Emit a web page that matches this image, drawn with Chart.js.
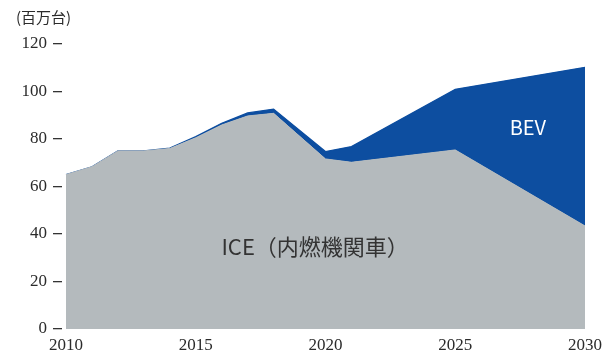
<!DOCTYPE html>
<html>
<head>
<meta charset="utf-8">
<script src="https://cdn.jsdelivr.net/npm/chart.js@4/dist/chart.umd.min.js"></script>
<style>
  html, body { margin: 0; padding: 0; background: #fff; }
  #wrap { width: 604px; height: 354px; position: relative; }
</style>
</head>
<body>
<div id="wrap"><canvas id="sales"></canvas></div>
<script>
// Global vehicle sales outlook, millions of units
const years = [2010, 2011, 2012, 2013, 2014, 2015, 2016, 2017, 2018, 2020, 2021, 2025, 2030];
const iceSales = [65, 68.3, 75, 75, 76, 80.5, 85.9, 89.7, 90.8, 71.6, 70.2, 75.4, 43.4];
const bevSales = [0, 0, 0, 0, 0.2, 0.5, 0.7, 1.3, 1.8, 3.1, 6.6, 25.5, 66.8];
const yTicks = [0, 20, 40, 60, 80, 100, 120];
const xTicks = [2010, 2015, 2020, 2025, 2030];

const unitLabel = '(百万台)';
const iceLabel = 'ICE（内燃機関車）';
const bevLabel = 'BEV';

const GRAY = '#b4babd';
const BLUE = '#0d4ea0';
const TEXT = '#2b2b2b';
const SERIF = "'Liberation Serif', 'DejaVu Serif', serif";
const SANS = "'Noto Sans CJK JP', 'Noto Sans', sans-serif";

// text drawn over the areas, placed in data units
const areaLabels = {
  id: 'areaLabels',
  afterDatasetsDraw(chart) {
    const { ctx, scales: { x, y } } = chart;
    ctx.save();
    ctx.textAlign = 'center';
    ctx.textBaseline = 'middle';
    ctx.fillStyle = '#333';
    ctx.font = '22px ' + SANS;
    ctx.fillText(iceLabel, x.getPixelForValue(2019.6), y.getPixelForValue(34.5));
    ctx.fillStyle = '#fff';
    ctx.font = '20px ' + SANS;
    ctx.fillText(bevLabel, x.getPixelForValue(2027.8), y.getPixelForValue(85));
    ctx.textAlign = 'left';
    ctx.fillStyle = TEXT;
    ctx.font = '15px ' + SANS;
    ctx.fillText(unitLabel, 16, 17);
    ctx.restore();
  }
};

function draw() {
  new Chart(document.getElementById('sales'), {
    type: 'line',
    data: {
      labels: years,
      datasets: [
        {
          label: 'ICE',
          data: years.map((yr, i) => ({ x: yr, y: iceSales[i] })),
          backgroundColor: GRAY,
          borderColor: GRAY,
          borderWidth: 1,
          fill: 'origin',
          pointRadius: 0,
          tension: 0
        },
        {
          label: 'BEV',
          data: years.map((yr, i) => ({ x: yr, y: bevSales[i] })),
          backgroundColor: BLUE,
          borderColor: BLUE,
          borderWidth: 1.2,
          fill: '-1',
          pointRadius: 0,
          tension: 0
        }
      ]
    },
    options: {
      responsive: true,
      maintainAspectRatio: false,
      animation: false,
      layout: { padding: { top: 44, right: 19, left: 0, bottom: 0 } },
      plugins: {
        legend: { display: false },
        tooltip: { enabled: false }
      },
      scales: {
        x: {
          type: 'linear',
          min: 2009.846,
          max: 2030,
          grid: { display: false, drawTicks: false },
          border: { display: false },
          afterBuildTicks: s => { s.ticks = xTicks.map(v => ({ value: v })); },
          afterFit: s => { s.height = 25; s.paddingRight = 0; s.paddingLeft = 0; },
          ticks: {
            padding: 6,
            color: TEXT,
            font: { family: SERIF, size: 17 },
            maxRotation: 0,
            callback: v => String(v)
          }
        },
        y: {
          stacked: true,
          min: 0,
          max: 120,
          border: { display: false },
          grid: {
            drawOnChartArea: false,
            drawTicks: true,
            tickLength: 9,
            color: '#333',
            lineWidth: 1.3
          },
          afterBuildTicks: s => { s.ticks = yTicks.map(v => ({ value: v })); },
          afterFit: s => { s.width = 62; },
          ticks: {
            padding: 6,
            color: TEXT,
            font: { family: SERIF, size: 17 }
          }
        }
      }
    },
    plugins: [areaLabels]
  });
}

Promise.all([
  document.fonts.load('17px "Liberation Serif"'),
  document.fonts.load('22px "Noto Sans CJK JP"')
]).then(draw, draw);
</script>
</body>
</html>
